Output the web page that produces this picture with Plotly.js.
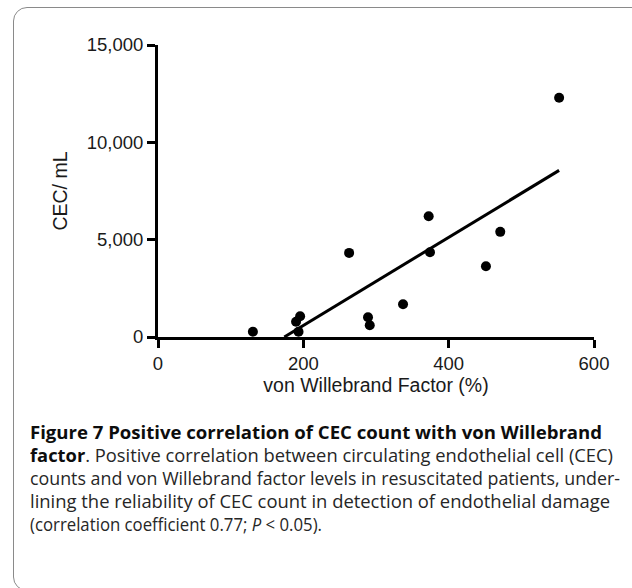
<!DOCTYPE html>
<html>
<head>
<meta charset="utf-8">
<script src="https://cdn.plot.ly/plotly-3.0.1.min.js"></script>
<style>
  html, body { margin:0; padding:0; background:#fff; }
  #wrap { position:relative; width:632px; height:588px; overflow:hidden; background:#fff; }
  #chart { position:absolute; left:0; top:0; width:632px; height:588px; }
  #frame { position:absolute; left:13px; top:7px; width:640px; height:584px; border:1.3px solid #8a8a8a; border-radius:14px; box-sizing:border-box; pointer-events:none; }
  #caption { position:absolute; left:30px; top:0; font-family:"Open Sans", "Noto Sans", sans-serif; font-size:18.5px; color:#262626; }
  #caption div { position:absolute; left:0; white-space:nowrap; transform-origin:0 50%; line-height:22px; }
  #caption b { color:#0d0d0d; font-weight:700; }
</style>
</head>
<body>
<div id="wrap">
  <div id="chart"></div>
  <div id="frame"></div>
  <div id="caption"></div>
</div>
<script>
// ---- data ----
const vwf = [130.6, 190, 195.6, 193.4, 263, 289, 291.4, 337.2, 372.5, 374.3, 451.3, 471, 552];
const cec = [273, 787, 1063, 273, 4321, 1013, 600, 1680, 6207, 4355, 3635, 5401, 12294];
const xTicks = [0, 200, 400, 600];
const yTicks = [0, 5000, 10000, 15000];
const yTickText = ["0", "5,000", "10,000", "15,000"];
const xTitle = "von Willebrand Factor (%)";
const yTitle = "CEC/ mL";
const captionLines = [
  "<b>Figure 7 Positive correlation of CEC count with von Willebrand</b>",
  "<b>factor</b>. Positive correlation between circulating endothelial cell (CEC)",
  "counts and von Willebrand factor levels in resuscitated patients, under-",
  "lining the reliability of CEC count in detection of endothelial damage",
  "(correlation coefficient 0.77; <i>P</i> &lt; 0.05)."
];

// least-squares fit line from the data
const n = vwf.length;
const mx = vwf.reduce((a,b)=>a+b,0)/n;
const my = cec.reduce((a,b)=>a+b,0)/n;
let sxy = 0, sxx = 0;
for (let i=0;i<n;i++){ sxy += (vwf[i]-mx)*(cec[i]-my); sxx += (vwf[i]-mx)**2; }
const slope = sxy/sxx, icpt = my - slope*mx;
const xStart = Math.max(Math.min(...vwf), -icpt/slope);
const xEnd = Math.max(...vwf);
const fitX = [xStart, xEnd];
const fitY = fitX.map(x => icpt + slope*x);

const tickFont = {family:"Liberation Sans, Arial, sans-serif", size:18.5, color:"#1a1a1a"};
const titleFont = {family:"Liberation Sans, Arial, sans-serif", size:19.5, color:"#1a1a1a"};

const traces = [
  {x: fitX, y: fitY, mode:"lines", line:{color:"#000", width:3}, hoverinfo:"skip", showlegend:false},
  {x: vwf, y: cec, mode:"markers", marker:{color:"#000", size:10}, cliponaxis:false, showlegend:false}
];

const layout = {
  width:632, height:588,
  margin:{l:158, r:38, t:45, b:251},
  paper_bgcolor:"rgba(0,0,0,0)", plot_bgcolor:"rgba(0,0,0,0)",
  showlegend:false,
  xaxis:{
    range:[0,600], tickvals:xTicks, ticktext:xTicks.map(String),
    showline:true, linecolor:"#000", linewidth:3, mirror:false,
    ticks:"outside", ticklen:8, tickwidth:3, tickcolor:"#000",
    showgrid:false, zeroline:false, tickfont:tickFont,
    title:{text:xTitle, font:titleFont, standoff:2}
  },
  yaxis:{
    range:[0,15000], tickvals:yTicks, ticktext:yTickText,
    showline:true, linecolor:"#000", linewidth:3,
    ticks:"outside", ticklen:8, tickwidth:3, tickcolor:"#000",
    showgrid:false, zeroline:false, tickfont:tickFont,
    title:{text:yTitle, font:titleFont, standoff:14}
  }
};

Plotly.newPlot("chart", traces, layout, {staticPlot:true, displayModeBar:false});

// caption
const cap = document.getElementById("caption");
const targetWidths = [572, 583, 590, 580, 292];
const lineCenters = [432, 455, 478, 501, 524];
captionLines.forEach((t, i) => {
  const d = document.createElement("div");
  d.innerHTML = t;
  d.style.top = (lineCenters[i] - 11) + "px";
  cap.appendChild(d);
  const w = d.getBoundingClientRect().width;
  d.style.transform = "scaleX(" + (targetWidths[i]/w) + ")";
});
</script>
</body>
</html>
